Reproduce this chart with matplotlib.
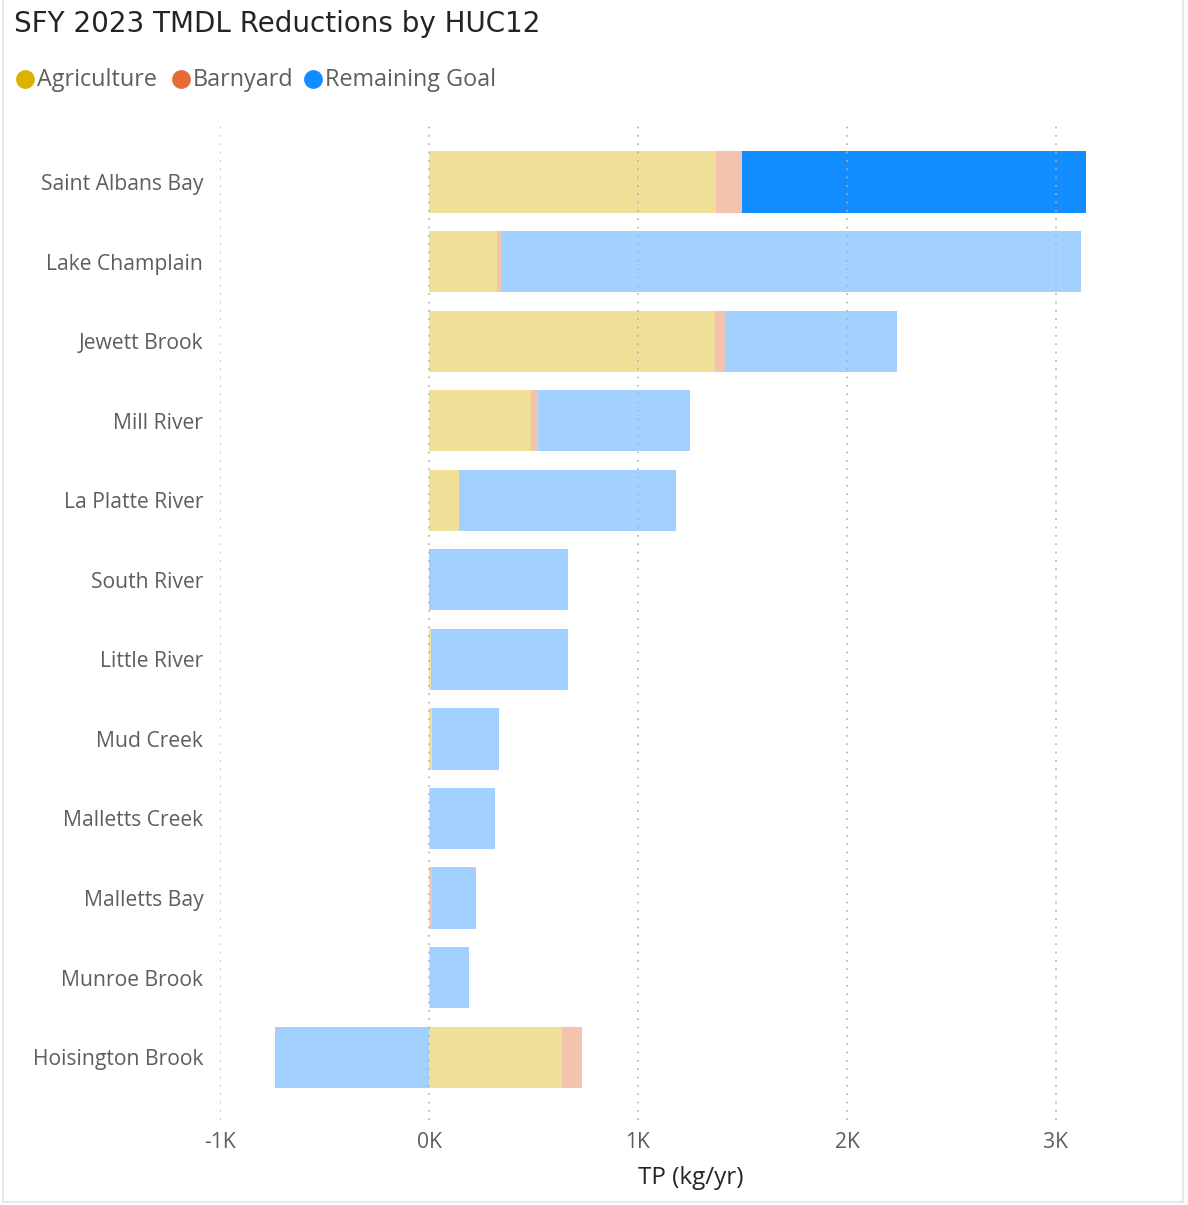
import matplotlib.pyplot as plt
from matplotlib.lines import Line2D

plt.rcParams['font.family'] = ['Open Sans', 'DejaVu Sans']

huc12 = ["Saint Albans Bay", "Lake Champlain", "Jewett Brook", "Mill River",
         "La Platte River", "South River", "Little River", "Mud Creek",
         "Malletts Creek", "Malletts Bay", "Munroe Brook", "Hoisington Brook"]
agriculture = [1373, 324, 1370, 488, 144, 0, 10, 16, 4, 5, 3, 635]
barnyard = [126, 22, 46, 33, 0, 0, 0, 0, 0, 8, 0, 96]
remaining = [1645, 2776, 823, 727, 1040, 664, 654, 319, 310, 211, 187, -735]
highlight = "Saint Albans Bay"

ticks = [-1000, 0, 1000, 2000, 3000]
tick_labels = ["-1K", "0K", "1K", "2K", "3K"]

# full colours for the selected row, faded ones for the rest
ag_full, ag_fade = "#D9B300", "#EFDF97"
barn_full, barn_fade = "#E66C37", "#F4C3AE"
rem_full, rem_fade = "#118DFF", "#A3D1FF"

W, H = 1188, 1205
fig = plt.figure(figsize=(W / 100, H / 100), dpi=100)
ax = fig.add_axes([220 / W, 1 - 1120 / H, 940.5 / W, 1000 / H])

y = list(range(len(huc12)))
for i, name in enumerate(huc12):
    rem_c = rem_full if name == highlight else rem_fade
    ax.barh(i, agriculture[i], left=0, height=0.77, color=ag_fade, zorder=1)
    ax.barh(i, barnyard[i], left=agriculture[i], height=0.77, color=barn_fade, zorder=1)
    if remaining[i] >= 0:
        start = agriculture[i] + barnyard[i]
    else:
        start = 0
    ax.barh(i, remaining[i], left=start, height=0.77, color=rem_c, zorder=1)

ax.set_xlim(-1000, 3500)
ax.set_ylim(11.79, -0.78)
ax.set_yticks(y)
ax.set_yticklabels(huc12, fontsize=15.2, color="#605E5C")
ax.set_xticks(ticks)
ax.set_xticklabels(tick_labels, fontsize=15.2, color="#605E5C")
ax.tick_params(length=0)
ax.tick_params(axis="y", pad=12)
ax.tick_params(axis="x", pad=9)
for s in ax.spines.values():
    s.set_visible(False)
ax.grid(axis="x", color="#B3B0AD", linestyle=(0, (1, 4)), linewidth=1.2, zorder=3)
ax.set_axisbelow(False)
ax.set_xlabel("TP (kg/yr)", fontsize=17.5, color="#252423", labelpad=9)

fig.text(14 / W, 1 - 24 / H, "SFY 2023 TMDL Reductions by HUC12", fontsize=20,
         color="#252423", va="center", ha="left", family="DejaVu Sans")

legend = [("Agriculture", ag_full, 25), ("Barnyard", barn_full, 181),
          ("Remaining Goal", rem_full, 313)]
for label, col, xpx in legend:
    fig.add_artist(Line2D([xpx / W], [1 - 79 / H], marker="o", markersize=12.5,
                          color=col, transform=fig.transFigure))
    fig.text((xpx + 12) / W, 1 - 80 / H, label, fontsize=16.8, color="#605E5C",
             va="center", ha="left")

# container edges
fig.add_artist(Line2D([3 / W, 3 / W], [1 - 1202 / H, 1], color="#E8E8E8", lw=1.5))
fig.add_artist(Line2D([1183 / W, 1183 / W], [1 - 1202 / H, 1], color="#E8E8E8", lw=1.5))
fig.add_artist(Line2D([3 / W, 1183 / W], [1 - 1202 / H, 1 - 1202 / H], color="#E8E8E8", lw=1.5))

fig.savefig("out.png", dpi=100, facecolor="white")
